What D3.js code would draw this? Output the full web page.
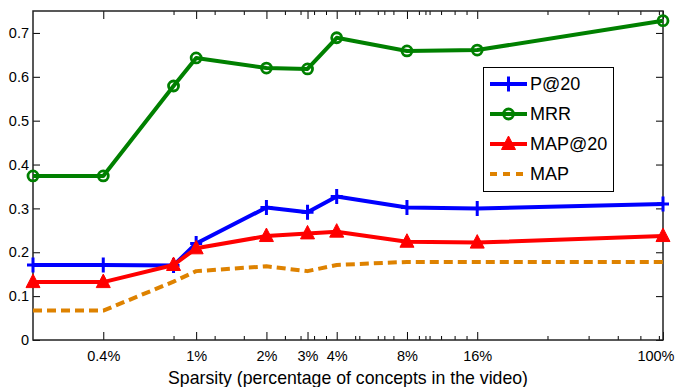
<!DOCTYPE html>
<html>
<head>
<meta charset="utf-8">
<script src="https://cdn.jsdelivr.net/npm/d3@7"></script>
<style>
  body { margin: 0; background: #fff; }
  text { font-family: "Liberation Sans", Arial, sans-serif; fill: #000; }
</style>
</head>
<body>
<div id="chart"></div>
<script>
// sparsity levels (percent of concepts kept)
const sparsity = [0.2, 0.4, 0.8, 1, 2, 3, 4, 8, 16, 100];

const p20   = [0.171, 0.171, 0.170, 0.220, 0.302, 0.291, 0.327, 0.302, 0.300, 0.310];
const mrr   = [0.374, 0.374, 0.579, 0.643, 0.620, 0.618, 0.689, 0.659, 0.661, 0.728];
const map20 = [0.132, 0.132, 0.171, 0.209, 0.237, 0.243, 0.247, 0.224, 0.222, 0.237];
const mapAll = [0.067, 0.067, 0.133, 0.157, 0.168, 0.157, 0.171, 0.178, 0.178, 0.178];

const xTicks = [0.4, 1, 2, 3, 4, 8, 16, 100];
const xTickLabels = ["0.4%", "1%", "2%", "3%", "4%", "8%", "16%", "100%"];
const xMinorTicks = [0.8, 1.2, 1.6, 2.4, 2.8, 3.2, 3.6, 4.8, 5, 6, 6.4, 7, 9, 9.6, 10,
                     11.2, 12.8, 14.4, 32, 48, 64, 80, 96];
const yTicks = [0, 0.1, 0.2, 0.3, 0.4, 0.5, 0.6, 0.7];

const series = [
  { name: "P@20",   values: p20,    color: "#0000ff", marker: "plus" },
  { name: "MRR",    values: mrr,    color: "#008000", marker: "circle" },
  { name: "MAP@20", values: map20,  color: "#ff0000", marker: "triangle" },
  { name: "MAP",    values: mapAll, color: "#de8200", marker: "none", dash: "9,5" }
];

const width = 675, height = 387;
const margin = { left: 33, right: 12, top: 11, bottom: 47 };

const svg = d3.select("#chart").append("svg")
    .attr("width", width)
    .attr("height", height);

const x = d3.scaleLog()
    .domain([0.2, 100])
    .range([margin.left, width - margin.right]);

const y = d3.scaleLinear()
    .domain([0, 0.75])
    .range([height - margin.bottom, margin.top]);

const x0 = x.range()[0], x1 = x.range()[1];
const y0 = y.range()[0], y1 = y.range()[1];

// axes (ticks pointing inward, matlab style)
function styleAxis(g) {
  g.select(".domain").remove();
  g.selectAll(".tick line").attr("stroke", "#000").attr("stroke-width", 1);
  g.selectAll("text").style("font-size", "14.5px").attr("fill", "#000");
}

svg.append("g")
    .attr("transform", "translate(0," + y0 + ")")
    .call(d3.axisBottom(x).tickValues(xTicks)
      .tickFormat((d, i) => xTickLabels[i])
      .tickSizeInner(-8).tickSizeOuter(0).tickPadding(11))
    .call(styleAxis)
    .call(g => g.selectAll(".tick text")
      .filter(d => d === 100)
      .attr("text-anchor", "end")
      .attr("x", width - 1 - x1));

svg.append("g")
    .attr("transform", "translate(0," + y0 + ")")
    .call(d3.axisBottom(x).tickValues(xMinorTicks).tickFormat("")
      .tickSizeInner(-4).tickSizeOuter(0))
    .call(styleAxis);

svg.append("g")
    .attr("transform", "translate(0," + y1 + ")")
    .call(d3.axisTop(x).tickValues(xTicks).tickFormat("")
      .tickSizeInner(-8).tickSizeOuter(0))
    .call(styleAxis);

svg.append("g")
    .attr("transform", "translate(0," + y1 + ")")
    .call(d3.axisTop(x).tickValues(xMinorTicks).tickFormat("")
      .tickSizeInner(-4).tickSizeOuter(0))
    .call(styleAxis);

svg.append("g")
    .attr("transform", "translate(" + x0 + ",0)")
    .call(d3.axisLeft(y).tickValues(yTicks)
      .tickFormat(d => d === 0 ? "0" : d3.format(".1f")(d))
      .tickSizeInner(-7).tickSizeOuter(0).tickPadding(4))
    .call(styleAxis);

svg.append("g")
    .attr("transform", "translate(" + x1 + ",0)")
    .call(d3.axisRight(y).tickValues(yTicks).tickFormat("")
      .tickSizeInner(-7).tickSizeOuter(0))
    .call(styleAxis);

// frame
svg.append("rect")
    .attr("x", x0).attr("y", y1)
    .attr("width", x1 - x0).attr("height", y0 - y1)
    .attr("fill", "none")
    .attr("stroke", "#222")
    .attr("stroke-width", 1.5);

svg.append("text")
    .attr("x", (x0 + x1) / 2)
    .attr("y", 384)
    .attr("text-anchor", "middle")
    .attr("textLength", 360)
    .attr("lengthAdjust", "spacingAndGlyphs")
    .style("font-size", "18.5px")
    .text("Sparsity (percentage of concepts in the video)");

// markers
function drawMarker(g, type, color, cx, cy) {
  if (type === "plus") {
    g.append("path")
      .attr("d", `M${cx - 6},${cy}H${cx + 6}M${cx},${cy - 7.5}V${cy + 7.5}`)
      .attr("stroke", color).attr("stroke-width", 3).attr("fill", "none");
  } else if (type === "circle") {
    g.append("circle")
      .attr("cx", cx).attr("cy", cy).attr("r", 5)
      .attr("stroke", color).attr("stroke-width", 2.8).attr("fill", "none");
  } else if (type === "triangle") {
    g.append("path")
      .attr("d", `M${cx},${cy - 8}L${cx + 7},${cy + 5.5}L${cx - 7},${cy + 5.5}Z`)
      .attr("fill", color).attr("stroke", color).attr("stroke-width", 1);
  }
}

const line = d3.line()
    .x((d, i) => x(sparsity[i]))
    .y(d => y(d));

series.forEach(s => {
  const g = svg.append("g");
  g.append("path")
    .attr("d", line(s.values))
    .attr("fill", "none")
    .attr("stroke", s.color)
    .attr("stroke-width", 4)
    .attr("stroke-linejoin", "round")
    .attr("stroke-dasharray", s.dash || null);
  s.values.forEach((v, i) => drawMarker(g, s.marker, s.color, x(sparsity[i]), y(v)));
});

// legend
const legend = svg.append("g");
legend.append("rect")
    .attr("x", 483.5).attr("y", 67.5)
    .attr("width", 130).attr("height", 124)
    .attr("fill", "#fff")
    .attr("stroke", "#000")
    .attr("stroke-width", 1);

series.forEach((s, i) => {
  const ly = 84 + i * 30;
  legend.append("line")
    .attr("x1", 490).attr("x2", 527)
    .attr("y1", ly).attr("y2", ly)
    .attr("stroke", s.color)
    .attr("stroke-width", 4)
    .attr("stroke-dasharray", s.dash ? "7,6" : null);
  drawMarker(legend, s.marker, s.color, 508.5, ly);
  legend.append("text")
    .attr("x", 530).attr("y", ly)
    .attr("dy", "0.36em")
    .style("font-size", "18px")
    .text(s.name);
});
</script>
</body>
</html>
